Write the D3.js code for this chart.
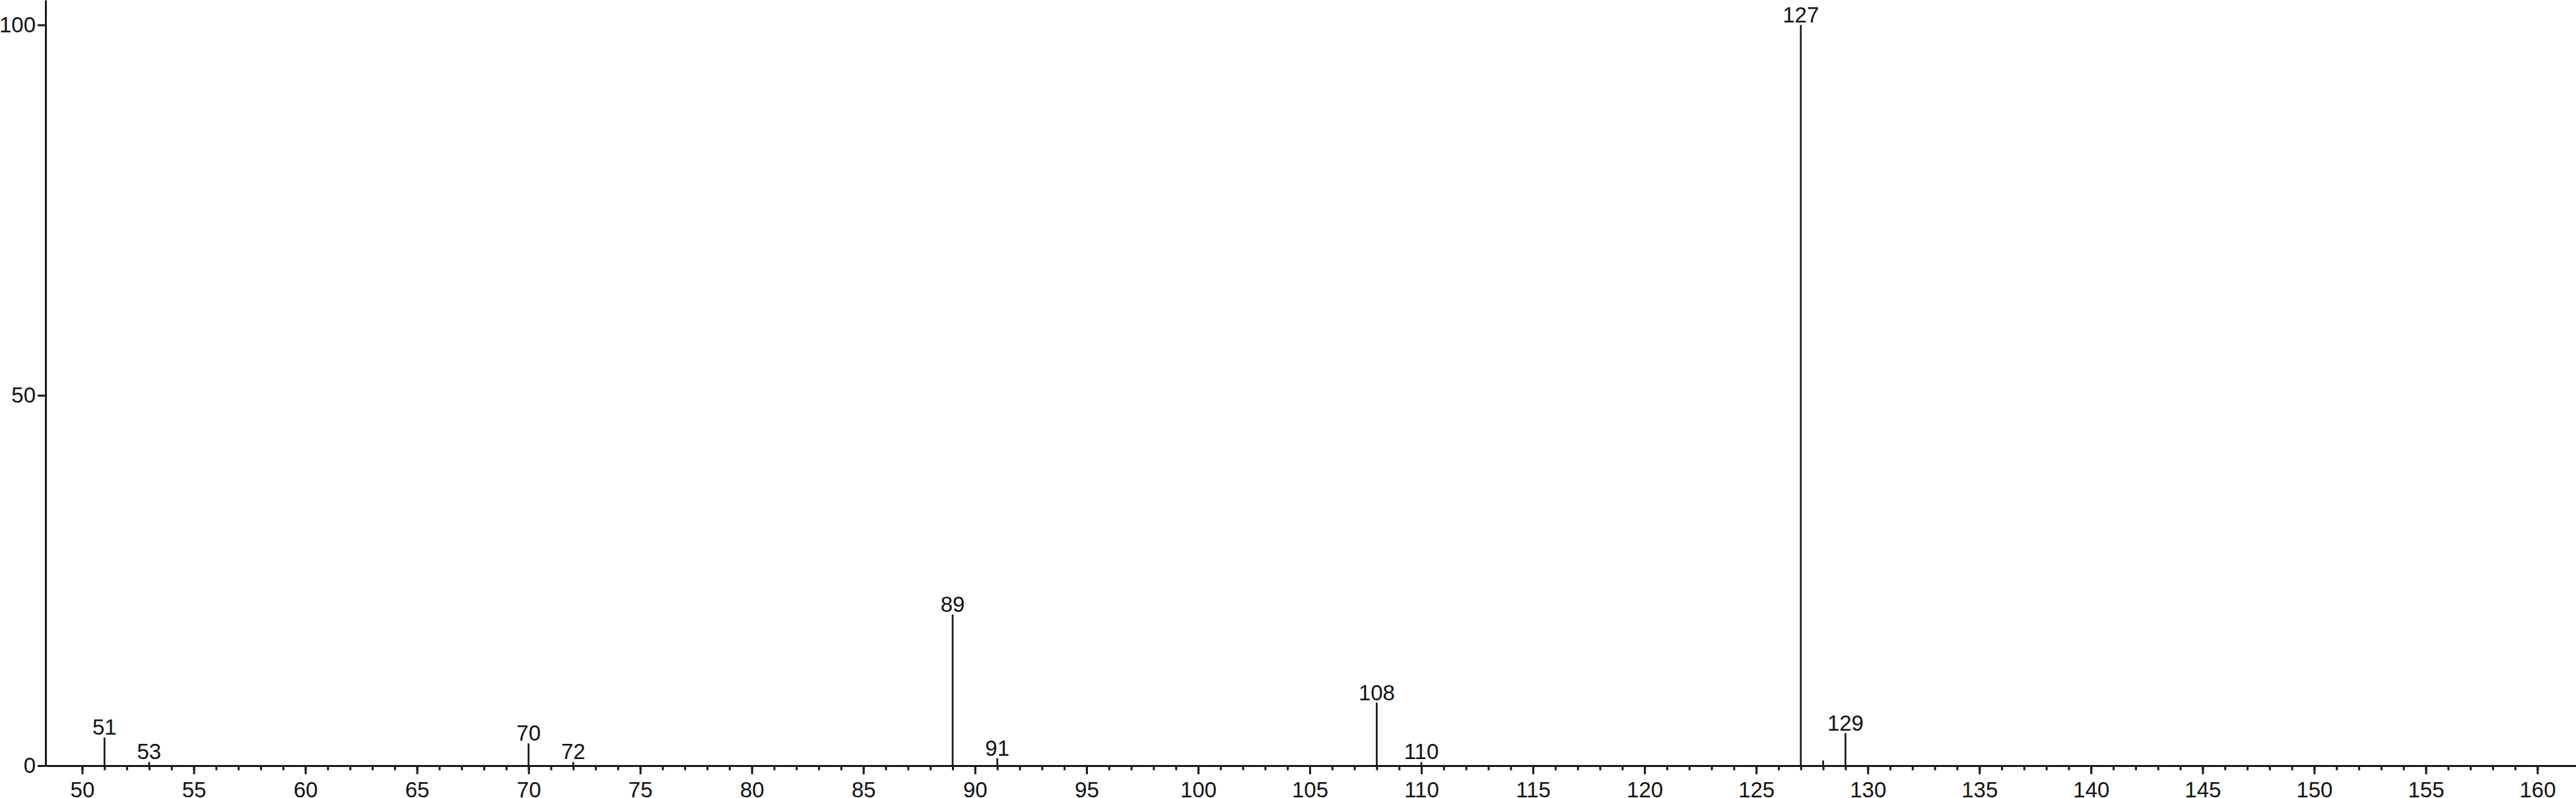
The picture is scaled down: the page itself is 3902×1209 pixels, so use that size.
<!DOCTYPE html>
<html>
<head>
<meta charset="utf-8">
<script src="https://cdn.jsdelivr.net/npm/d3@7"></script>
<style>
  html, body { margin: 0; padding: 0; background: #fff; }
  svg { display: block; }
  text { font-family: "Liberation Sans", Arial, Helvetica, sans-serif; fill: #111; }
</style>
</head>
<body>
<svg id="chart" width="3902" height="1209"></svg>
<script>
// m/z positions of the peaks
const mzValues = [51, 53, 70, 72, 89, 91, 108, 110, 127, 128, 129];
// relative intensities (%)
const intensities = [3.8, 0.5, 3.0, 0.5, 20.4, 1.0, 8.5, 0.5, 100, 0.7, 4.4];
// peaks that carry a label
const labeledMz = [51, 53, 70, 72, 89, 91, 108, 110, 127, 129];
// axis ticks
const xMajorTicks = [50, 55, 60, 65, 70, 75, 80, 85, 90, 95, 100, 105, 110, 115, 120, 125, 130, 135, 140, 145, 150, 155, 160];
const xMinorTicks = d3.range(50, 161, 1);
const yTicks = [0, 50, 100];

const W = 3902, H = 1209;
const left = 69, baseY = 1160;
const ink = "#1a1a1a";

const svg = d3.select("#chart");

const x = d3.scaleLinear().domain([48.36, 161.73]).range([left, W]);
const y = d3.scaleLinear().domain([0, 103.36]).range([baseY, 0]);

// minor x ticks
const gMinor = svg.append("g").attr("transform", `translate(0,${baseY})`)
  .call(d3.axisBottom(x).tickValues(xMinorTicks).tickSize(7).tickSizeOuter(0).tickFormat(""));
gMinor.select(".domain").remove();
gMinor.selectAll(".tick line").attr("stroke", ink).attr("stroke-width", 3);

// major x ticks with labels
const gX = svg.append("g").attr("transform", `translate(0,${baseY})`)
  .call(d3.axisBottom(x).tickValues(xMajorTicks).tickSize(13).tickSizeOuter(0).tickFormat(d3.format("d")));
gX.select(".domain").attr("stroke", ink).attr("stroke-width", 3);
gX.selectAll(".tick line").attr("stroke", ink).attr("stroke-width", 3);
gX.selectAll(".tick text").attr("y", 48).attr("dy", 0).attr("font-size", 33).style("fill", "#111")
  .attr("font-family", "Liberation Sans, Arial, sans-serif");

// y axis
const gY = svg.append("g").attr("transform", `translate(${left},0)`)
  .call(d3.axisLeft(y).tickValues(yTicks).tickSize(12).tickPadding(3).tickSizeOuter(0).tickFormat(d3.format("d")));
gY.select(".domain").attr("stroke", ink).attr("stroke-width", 3);
gY.selectAll(".tick line").attr("stroke", ink).attr("stroke-width", 3);
gY.selectAll(".tick text").attr("font-size", 33).style("fill", "#111")
  .attr("font-family", "Liberation Sans, Arial, sans-serif");

// peaks
const peaks = mzValues.map((m, i) => ({ mz: m, v: intensities[i] }));
svg.append("g").selectAll("line.peak").data(peaks).join("line")
  .attr("class", "peak")
  .attr("x1", d => x(d.mz)).attr("x2", d => x(d.mz))
  .attr("y1", baseY).attr("y2", d => y(d.v))
  .attr("stroke", ink).attr("stroke-width", 2.7);

// peak labels
svg.append("g").selectAll("text.plabel").data(peaks.filter(d => labeledMz.includes(d.mz))).join("text")
  .attr("class", "plabel")
  .attr("x", d => x(d.mz)).attr("y", d => y(d.v) - 4)
  .attr("text-anchor", "middle").attr("font-size", 33)
  .text(d => d.mz);
</script>
</body>
</html>
